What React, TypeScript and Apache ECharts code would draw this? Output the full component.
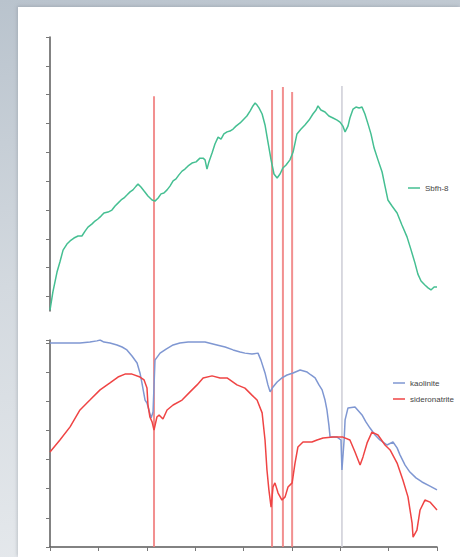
import React, { useEffect, useRef } from "react";
import * as echarts from "echarts";

// wavelength (nm) and relative reflectance
const greenNm = [1000,1012,1029,1041,1054,1070,1083,1099,1116,1132,1145,1157,1174,1186,1198,1211,1223,1240,1256,1269,1281,1294,1306,1318,1331,1343,1356,1364,1376,1389,1405,1422,1434,1447,1459,1471,1484,1496,1509,1521,1533,1546,1558,1571,1587,1604,1620,1633,1641,1649,1657,1670,1682,1695,1707,1719,1732,1744,1757,1769,1786,1802,1814,1827,1839,1848,1856,1864,1877,1889,1901,1914,1926,1939,1951,1963,1976,1992,2005,2013,2021,2038,2054,2071,2087,2100,2108,2120,2137,2153,2170,2187,2199,2211,2220,2232,2240,2253,2265,2278,2290,2302,2315,2327,2340,2356,2373,2385,2397,2414,2435,2455,2476,2493,2509,2521,2534,2550,2563,2575,2588,2600];
const greenVal = [0.3,6.6,13.5,17.0,21.1,23.2,24.3,25.3,26.0,26.0,27.7,29.1,30.2,31.2,31.9,32.9,34.0,34.3,35.0,36.4,37.4,38.5,39.2,40.2,41.3,42.0,43.3,44.0,43.0,41.6,39.9,38.5,38.1,39.2,40.6,40.9,42.0,43.3,45.1,45.8,47.2,48.5,49.2,50.3,51.3,51.7,53.0,53.0,52.4,49.2,51.7,54.8,57.9,60.3,59.6,61.4,62.1,62.4,63.1,64.1,65.2,66.6,67.6,69.3,71.1,72.1,71.4,70.4,68.3,64.5,58.6,52.4,47.5,46.1,47.5,49.6,50.6,52.4,55.1,58.2,61.4,63.1,64.5,66.2,68.3,69.7,71.1,69.7,69.0,67.6,66.9,66.2,65.5,64.1,62.1,64.1,66.9,70.0,70.7,70.4,70.7,68.3,64.8,61.4,56.5,52.4,48.2,43.3,38.5,36.4,34.0,29.8,25.7,21.1,16.6,12.8,10.4,9.0,8.0,7.3,8.3,8.3];

const kaoNm = [1000,1041,1083,1124,1165,1194,1207,1223,1248,1277,1298,1318,1339,1360,1372,1380,1393,1401,1409,1418,1426,1434,1455,1480,1509,1537,1571,1599,1641,1690,1724,1757,1786,1806,1835,1860,1872,1889,1901,1910,1922,1939,1959,1980,2005,2034,2063,2079,2096,2112,2125,2137,2145,2153,2158,2170,2187,2203,2207,2216,2220,2232,2261,2290,2306,2323,2344,2364,2393,2418,2435,2447,2468,2488,2513,2538,2571,2600];
const kaoVal = [7.00,7.00,7.00,7.00,7.03,7.07,7.10,7.03,7.00,6.93,6.86,6.76,6.55,6.31,5.97,5.63,5.04,4.94,4.70,4.42,4.63,6.41,6.65,6.79,6.93,7.00,7.03,7.03,7.03,6.93,6.86,6.76,6.69,6.65,6.62,6.65,6.41,5.97,5.56,5.32,5.49,5.66,5.80,5.90,5.97,6.07,6.00,5.90,5.80,5.56,5.39,5.04,4.70,4.18,3.77,3.77,3.77,3.67,2.64,3.67,4.36,4.77,4.80,4.53,4.29,4.08,3.84,3.67,3.50,3.60,3.40,3.16,2.81,2.57,2.37,2.23,2.09,1.96];

const sidNm = [1000,1041,1083,1124,1165,1207,1248,1281,1310,1339,1372,1389,1401,1405,1413,1422,1430,1442,1451,1467,1484,1509,1546,1579,1608,1633,1670,1703,1732,1773,1806,1835,1856,1877,1889,1897,1905,1914,1922,1930,1943,1959,1972,1984,2001,2013,2025,2046,2083,2104,2129,2170,2211,2240,2261,2282,2294,2311,2331,2356,2385,2406,2435,2459,2480,2497,2501,2517,2530,2550,2571,2600];
const sidVal = [3.26,3.67,4.12,4.70,5.04,5.39,5.63,5.83,5.93,5.93,5.83,5.73,5.45,4.87,4.46,4.29,4.01,4.46,4.53,4.39,4.70,4.87,5.04,5.32,5.56,5.80,5.87,5.80,5.80,5.56,5.45,5.21,5.04,4.60,3.67,2.64,1.96,1.37,2.06,2.20,1.85,1.61,1.72,2.06,2.20,2.88,3.43,3.60,3.60,3.67,3.74,3.77,3.77,3.67,3.26,2.81,3.09,3.57,3.94,3.84,3.50,3.33,2.88,2.30,1.72,0.82,0.34,0.58,1.27,1.61,1.54,1.27];

// marker lines (wavelength, top of the line on the full-height scale 0..100)
const markerNm = [1430, 1918, 1963, 2001];
const markerTop = [88.4, 89.6, 90.2, 89.2];
const grayNm = [2207];
const grayTop = [90.4];

const topTicks = [5, 15, 25, 35, 45, 55, 65, 75, 85, 95];

const FONT = "'Liberation Sans', Arial, sans-serif";

export default function App() {
  const ref = useRef<HTMLDivElement>(null);
  useEffect(() => {
    const chart = echarts.init(ref.current!, null, { renderer: "svg" });
    const zip = (xs: number[], ys: number[]) => xs.map((x, i) => [x, ys[i]]);
    const axisLine = { show: true, lineStyle: { color: "#5a5a5a", width: 1.5 } };
    const mk = (xs: number[], tops: number[], color: string, width: number, opacity: number) =>
      xs.map((x, i) => ({
        type: "line",
        xAxisIndex: 2,
        yAxisIndex: 2,
        data: [[x, 0], [x, tops[i]]],
        showSymbol: false,
        silent: true,
        z: 1,
        lineStyle: { color, width, opacity },
      }));
    chart.setOption({
      animation: false,
      backgroundColor: "transparent",
      textStyle: { fontFamily: FONT },
      grid: [
        { left: 50, top: 37, width: 387, height: 274 },
        { left: 50, top: 340, width: 387, height: 207 },
        { left: 50, top: 37, width: 387, height: 510 },
      ],
      xAxis: [
        { gridIndex: 0, type: "value", min: 1000, max: 2600, show: false },
        {
          gridIndex: 1, type: "value", min: 1000, max: 2600, interval: 200,
          axisLine, axisTick: { show: true, length: 4, lineStyle: { color: "#777", width: 1 } },
          axisLabel: { show: false }, splitLine: { show: false },
        },
        { gridIndex: 2, type: "value", min: 1000, max: 2600, show: false },
      ],
      yAxis: [
        {
          gridIndex: 0, type: "value", min: 0, max: 95,
          axisLine, axisTick: { show: true, length: 4, customValues: topTicks, lineStyle: { color: "#777", width: 1 } },
          axisLabel: { show: false }, splitLine: { show: false },
        },
        {
          gridIndex: 1, type: "value", min: 0, max: 7.1, interval: 1,
          axisLine, axisTick: { show: true, length: 4, lineStyle: { color: "#777", width: 1 } },
          axisLabel: { show: false }, splitLine: { show: false },
        },
        { gridIndex: 2, type: "value", min: 0, max: 100, show: false },
      ],
      legend: [
        {
          data: ["Sbfh-8"], left: 408, top: 184, padding: 0,
          itemWidth: 12, itemHeight: 1.5, icon: "rect",
          textStyle: { fontSize: 8, color: "#444", fontFamily: FONT },
        },
        {
          data: ["kaolinite", "sideronatrite"], left: 393, top: 379, padding: 0,
          orient: "vertical", itemGap: 8,
          itemWidth: 12, itemHeight: 1.5, icon: "rect",
          textStyle: { fontSize: 8, color: "#444", fontFamily: FONT },
        },
      ],
      series: [
        ...mk(markerNm, markerTop, "#f07c7c", 2, 0.85),
        ...mk(grayNm, grayTop, "#cdcdd6", 1.5, 1),
        {
          name: "Sbfh-8", type: "line", xAxisIndex: 0, yAxisIndex: 0,
          data: zip(greenNm, greenVal), showSymbol: false, z: 3,
          lineStyle: { color: "#45bf92", width: 1.5 }, itemStyle: { color: "#45bf92" },
        },
        {
          name: "kaolinite", type: "line", xAxisIndex: 1, yAxisIndex: 1,
          data: zip(kaoNm, kaoVal), showSymbol: false, z: 3,
          lineStyle: { color: "#7f97d2", width: 1.5 }, itemStyle: { color: "#7f97d2" },
        },
        {
          name: "sideronatrite", type: "line", xAxisIndex: 1, yAxisIndex: 1,
          data: zip(sidNm, sidVal), showSymbol: false, z: 4,
          lineStyle: { color: "#ef4444", width: 1.5 }, itemStyle: { color: "#ef4444" },
        },
      ],
    });
    return () => chart.dispose();
  }, []);

  return (
    <div
      style={{
        position: "fixed", left: 0, top: 0, width: 460, height: 557, overflow: "hidden",
        background: "linear-gradient(170deg, #b9c3cd 0%, #d3d9df 45%, #e9ecef 100%)",
      }}
    >
      <div
        style={{
          position: "absolute", left: 18, top: 7, right: 0, bottom: 0, background: "#ffffff",
          boxShadow: "-1px -1px 3px rgba(120,130,140,0.35)",
        }}
      />
      <div ref={ref} style={{ position: "absolute", left: 0, top: 0, width: 460, height: 557 }} />
    </div>
  );
}
